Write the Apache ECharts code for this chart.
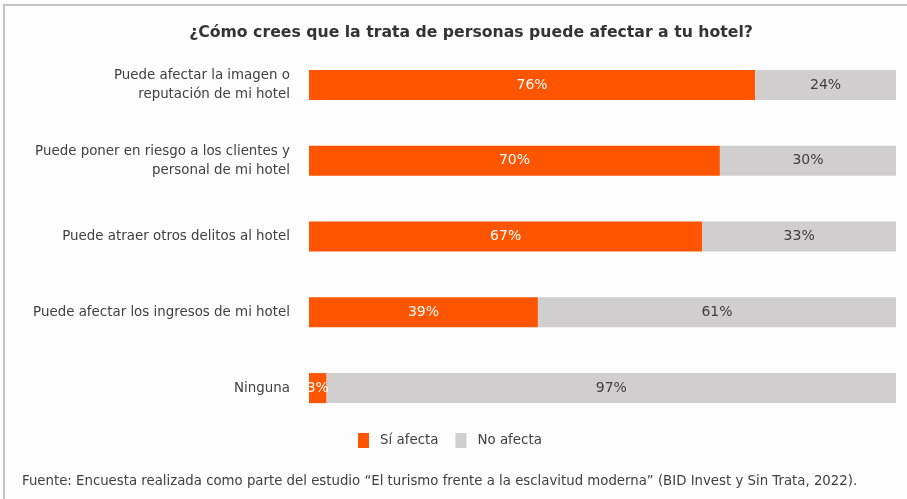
<!DOCTYPE html>
<html><head><meta charset="utf-8">
<script src="https://cdn.jsdelivr.net/npm/echarts@6/dist/echarts.min.js"></script>
<style>
html,body{margin:0;padding:0;background:#fdfdfd;}
#frame{position:absolute;left:3px;top:4px;width:904px;height:495px;border-left:2px solid #c4c4c4;border-top:2px solid #c4c4c4;box-sizing:border-box;pointer-events:none;}
#c{width:907px;height:499px;}
</style></head>
<body>
<div id="c"></div>
<div id="frame"></div>
<script>
const categories = [
  "Puede afectar la imagen o\nreputación de mi hotel",
  "Puede poner en riesgo a los clientes y\npersonal de mi hotel",
  "Puede atraer otros delitos al hotel",
  "Puede afectar los ingresos de mi hotel",
  "Ninguna"
];
const siAfecta = [76, 70, 67, 39, 3];
const noAfecta = [24, 30, 33, 61, 97];
const seriesNames = ["Sí afecta", "No afecta"];
const titleText = "¿Cómo crees que la trata de personas puede afectar a tu hotel?";
const sourceText = "Fuente: Encuesta realizada como parte del estudio “El turismo frente a la esclavitud moderna” (BID Invest y Sin Trata, 2022).";

const FONT = "DejaVu Sans";
const chart = echarts.init(document.getElementById('c'));
chart.setOption({
  backgroundColor: '#fdfdfd',
  animation: false,
  textStyle: {fontFamily: FONT},
  graphic: [
    {type:'text', x: 471, y: 25, style:{text: titleText, fill:'#333333', font:'bold 15.7px "' + FONT + '"', textAlign:'center'}},
    {type:'text', x: 22, y: 475, style:{text: sourceText, fill:'#404040', font:'13.3px "' + FONT + '"'}}
  ],
  legend: {
    data: seriesNames,
    top: 428, left: 353,
    itemWidth: 11, itemHeight: 15, itemGap: 17,
    textStyle: {fontSize: 13.4, color: '#404040', fontFamily: FONT, padding: [0, 0, 0, 6]},
    icon: 'rect'
  },
  grid: {left: 309, right: 11, top: 47, bottom: 73, containLabel: false},
  xAxis: {type:'value', min:0, max:100, show:false},
  yAxis: {
    type:'category', data: categories, inverse: true,
    axisLine:{show:false}, axisTick:{show:false},
    axisLabel:{fontSize:13.4, color:'#404040', margin:19, lineHeight:19, align:'right', fontFamily: FONT}
  },
  series: [
    {name: seriesNames[0], type:'bar', stack:'t', data: siAfecta, barWidth: 30,
     itemStyle:{color:'#FF5500'},
     label:{show:true, position:'inside', formatter:'{c}%', color:'#ffffff', fontSize:14, fontFamily: FONT}},
    {name: seriesNames[1], type:'bar', stack:'t', data: noAfecta, barWidth: 30,
     itemStyle:{color:'#D0CECE'},
     label:{show:true, position:'inside', formatter:'{c}%', color:'#404040', fontSize:14, fontFamily: FONT}}
  ]
});
</script>
</body></html>
